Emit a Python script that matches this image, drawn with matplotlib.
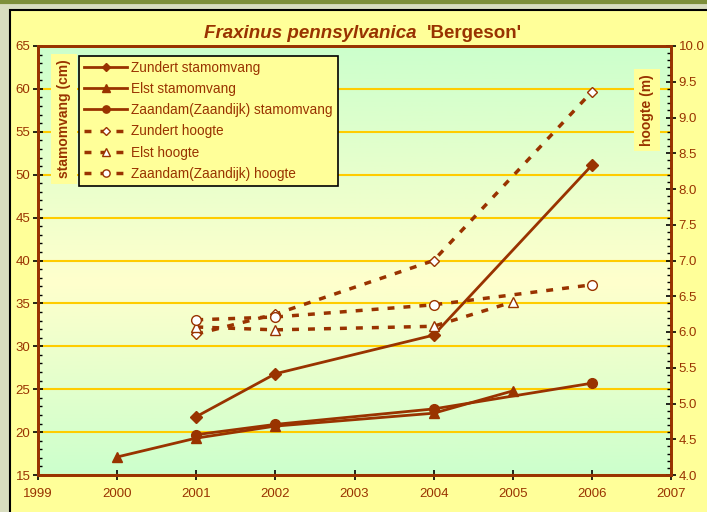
import matplotlib
matplotlib.use("Agg")
import matplotlib.pyplot as plt
import numpy as np
from matplotlib.patches import Rectangle
from matplotlib.lines import Line2D
from matplotlib.colors import LinearSegmentedColormap
from matplotlib.ticker import MultipleLocator, FormatStrFormatter

plt.rcParams['font.family'] = ['Liberation Sans', 'DejaVu Sans']

# ---- data ----
zundert_years = [2001, 2002, 2004, 2006]
zundert_stam = [21.8, 26.8, 31.3, 51.1]
elst_years = [2000, 2001, 2002, 2004, 2005]
elst_stam = [17.1, 19.3, 20.7, 22.2, 24.8]
zaandam_years = [2001, 2002, 2004, 2006]
zaandam_stam = [19.7, 20.9, 22.7, 25.7]

zundert_h_years = [2001, 2002, 2004, 2006]
zundert_h = [5.97, 6.25, 7.0, 9.36]
elst_h_years = [2001, 2002, 2004, 2005]
elst_h = [6.07, 6.03, 6.08, 6.42]
zaandam_h_years = [2001, 2002, 2004, 2006]
zaandam_h = [6.17, 6.21, 6.38, 6.66]

labels = ["Zundert stamomvang", "Elst stamomvang", "Zaandam(Zaandijk) stamomvang",
          "Zundert hoogte", "Elst hoogte", "Zaandam(Zaandijk) hoogte"]
title_italic = "Fraxinus pennsylvanica"
title_plain = "'Bergeson'"
left_label = "stamomvang (cm)"
right_label = "hoogte (m)"

BROWN = "#993300"
W, H = 707, 512

fig = plt.figure(figsize=(W / 100, H / 100), dpi=100)
fig.patch.set_facecolor("#d8ddbf")
# chart area
fig.patches.append(Rectangle((10 / W, -0.02), 1.02, (H - 10) / H + 0.02, transform=fig.transFigure,
                             facecolor="#ffff99", edgecolor="black", linewidth=1.5, zorder=-5))
fig.lines.append(Line2D([0, 1], [1 - 2 / H, 1 - 2 / H], transform=fig.transFigure,
                        color="#7d8f3a", linewidth=3, zorder=-4))

ax = fig.add_axes([38 / W, (H - 475) / H, (671 - 38) / W, (475 - 46) / H])
ax.set_facecolor("none")

# gradient background
cmap = LinearSegmentedColormap.from_list("g", [(0, "#ccffcc"), (0.45, "#ffffcc"), (1, "#ccffcc")])
grad = np.linspace(0, 1, 256).reshape(-1, 1)
ax.imshow(grad, cmap=cmap, aspect="auto", extent=[0, 1, 0, 1], transform=ax.transAxes,
          zorder=0, origin="lower")

ax.set_xlim(1999, 2007)
ax.set_ylim(15, 65)
ax.xaxis.set_major_locator(MultipleLocator(1))
ax.yaxis.set_major_locator(MultipleLocator(5))
ax.yaxis.set_minor_locator(MultipleLocator(1))
ax.grid(axis="y", which="major", color="#ffcc00", linewidth=1.5, zorder=1)
ax.set_axisbelow(True)

ms = 7
h1, = ax.plot(zundert_years, zundert_stam, color=BROWN, lw=2, marker="D", ms=6, zorder=3)
h2, = ax.plot(elst_years, elst_stam, color=BROWN, lw=2, marker="^", ms=ms, zorder=3)
h3, = ax.plot(zaandam_years, zaandam_stam, color=BROWN, lw=2, marker="o", ms=ms, zorder=3)

ax2 = ax.twinx()
ax2.set_ylim(4, 10)
ax2.yaxis.set_major_locator(MultipleLocator(0.5))
ax2.yaxis.set_minor_locator(MultipleLocator(0.1))
ax2.yaxis.set_major_formatter(FormatStrFormatter("%.1f"))

dash = (0, (2, 2.6))
h4, = ax2.plot(zundert_h_years, zundert_h, color=BROWN, lw=2.5, ls=dash, marker="D", ms=5.5,
               mfc="white", mec=BROWN, mew=1, zorder=3)
h5, = ax2.plot(elst_h_years, elst_h, color=BROWN, lw=2.5, ls=dash, marker="^", ms=ms,
               mfc="white", mec=BROWN, mew=1, zorder=3)
h6, = ax2.plot(zaandam_h_years, zaandam_h, color=BROWN, lw=2.5, ls=dash, marker="o", ms=ms,
               mfc="white", mec=BROWN, mew=1, zorder=3)

for a in (ax, ax2):
    for s in a.spines.values():
        s.set_color(BROWN)
        s.set_linewidth(2)
    a.tick_params(which="major", direction="inout", length=7, width=1.2, color="black",
                  labelcolor=BROWN, labelsize=9.5)
    a.tick_params(which="minor", direction="in", length=3, width=1, color="black")
ax.tick_params(axis="x", pad=6)
ax.tick_params(axis="y", pad=2)
ax2.tick_params(axis="y", pad=2)

leg = ax2.legend([h1, h2, h3, h4, h5, h6], labels, loc="upper left",
                 bbox_to_anchor=((79 - 38) / 633, (475 - 56) / 429), borderaxespad=0,
                 fontsize=9.8, handlelength=3.2, labelspacing=0.53, handletextpad=0.3,
                 borderpad=0.35, fancybox=False, framealpha=1, facecolor="#ffff99",
                 edgecolor="black", markerscale=0.75)
leg.get_frame().set_linewidth(1.2)
for t in leg.get_texts():
    t.set_color(BROWN)
leg.set_zorder(10)

ax2.text((64 - 38) / 633, (475 - 119) / 429, left_label, transform=ax2.transAxes, rotation=90,
         ha="center", va="center", fontsize=10, fontweight="bold", color=BROWN, zorder=9,
         bbox=dict(boxstyle="square,pad=0.4", facecolor="#ffff99", edgecolor="none"))
ax2.text((647 - 38) / 633, (475 - 110) / 429, right_label, transform=ax2.transAxes, rotation=90,
         ha="center", va="center", fontsize=10, fontweight="bold", color=BROWN, zorder=9,
         bbox=dict(boxstyle="square,pad=0.4", facecolor="#ffff99", edgecolor="none"))

# title
t1 = fig.text(0, 0, title_italic + "  ", fontsize=13.5, fontweight="bold", fontstyle="italic",
              color=BROWN)
t2 = fig.text(0, 0, title_plain, fontsize=13.5, fontweight="bold", color=BROWN)
fig.canvas.draw()
r = fig.canvas.get_renderer()
w1 = t1.get_window_extent(r).width
w2 = t2.get_window_extent(r).width
cx = 363
x0 = cx - (w1 + w2) / 2
ty = H - 38
t1.set_position((x0 / W, ty / H))
t2.set_position(((x0 + w1) / W, ty / H))

fig.savefig("out.png", dpi=100, facecolor=fig.get_facecolor())
